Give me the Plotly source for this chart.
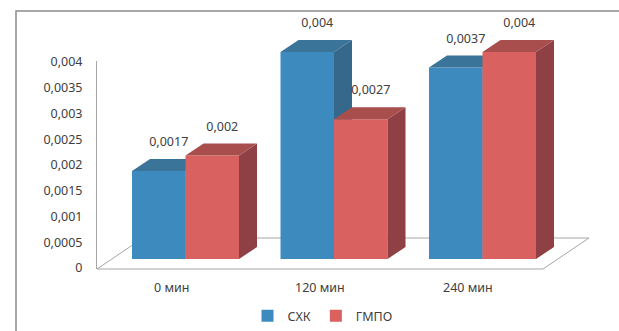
import plotly.graph_objects as go

# ---- data -------------------------------------------------------------
categories = ["0 мин", "120 мин", "240 мин"]
series_names = ["СХК", "ГМПО"]
skh_values = [0.0017, 0.004, 0.0037]
gmpo_values = [0.002, 0.0027, 0.004]
tick_values = [0, 0.0005, 0.001, 0.0015, 0.002, 0.0025, 0.003, 0.0035, 0.004]
tick_labels = ["0", "0,0005", "0,001", "0,0015", "0,002", "0,0025", "0,003", "0,0035", "0,004"]

# ---- geometry (pixels) ------------------------------------------------
W, H = 619, 331
CX0, CDX = 185.5, 148.5        # x pixel of category 0 (bar pair centre), pixels per category
VY0, VDY = 259.0, 51750.0      # y pixel of value 0 on the bar plane, pixels per unit value
BAR_W = 53.5 / CDX             # bar width in category units
DEPTH_X = 18.0 / CDX           # bar depth offset (x), category units
DEPTH_Y = 12.0 / VDY           # bar depth offset (y), value units
FLOOR_FRONT_PX = 269.0         # floor front edge
FLOOR_BACK_PX = 238.0          # floor back edge
FLOOR_LEFT_PX, FLOOR_RIGHT_PX = 97.0, 543.0
FLOOR_DEPTH_PX = 46.0
AXIS_TOP_PX, AXIS_BOTTOM_PX = 61.0, 269.0
AXIS_ZERO_PX, AXIS_DY = 268.0, 51500.0

FONT = "Noto Sans"
TXT = "#404040"
GRID = "#a6a6a6"

BLUE = dict(front="#3d8bbe", top="#3a7498", side="#35688a")
RED = dict(front="#d9615f", top="#a84e4d", side="#8e4044")


def u_of(px):
    return (px - CX0) / CDX


def v_of(py):
    return (VY0 - py) / VDY


def pyp(py):
    return 1 - py / H


def fmt(v):
    return f"{v:g}".replace(".", ",")


PLOT_TOP, PLOT_BOTTOM = 0.0, 300.0
x_range = [u_of(0), u_of(W)]
y_range = [v_of(PLOT_BOTTOM), v_of(PLOT_TOP)]

fig = go.Figure()


def add_series(name, values, colors, offset, xa, ya):
    xs = list(range(len(values)))
    fig.add_trace(go.Bar(
        x=xs, y=values, name=name, offset=offset, width=BAR_W,
        marker=dict(color=colors["front"], line=dict(width=0)),
        xaxis=xa, yaxis=ya, showlegend=True,
    ))
    tx, ty, sx, sy = [], [], [], []
    for i, v in zip(xs, values):
        u0 = i + offset
        u1 = u0 + BAR_W
        tx += [u0, u1, u1 + DEPTH_X, u0 + DEPTH_X, u0, None]
        ty += [v, v, v + DEPTH_Y, v + DEPTH_Y, v, None]
        sx += [u1, u1, u1 + DEPTH_X, u1 + DEPTH_X, u1, None]
        sy += [0, v, v + DEPTH_Y, DEPTH_Y, 0, None]
    fig.add_trace(go.Scatter(
        x=sx, y=sy, mode="lines", fill="toself", fillcolor=colors["side"],
        line=dict(width=0, color=colors["side"]), xaxis=xa, yaxis=ya,
        showlegend=False, hoverinfo="skip",
    ))
    fig.add_trace(go.Scatter(
        x=tx, y=ty, mode="lines", fill="toself", fillcolor=colors["top"],
        line=dict(width=0, color=colors["top"]), xaxis=xa, yaxis=ya,
        showlegend=False, hoverinfo="skip",
    ))
    # value labels above each bar
    fig.add_trace(go.Scatter(
        x=[i + offset + BAR_W / 2 + 10.0 / CDX for i in xs],
        y=[v + 28.0 / VDY for v in values],
        mode="text", text=[fmt(v) for v in values],
        textfont=dict(family=FONT, size=12.5, color=TXT),
        textposition="middle center", cliponaxis=False,
        xaxis=xa, yaxis=ya, showlegend=False, hoverinfo="skip",
    ))


add_series(series_names[0], skh_values, BLUE, -BAR_W, "x", "y")
add_series(series_names[1], gmpo_values, RED, 0.0, "x2", "y2")

# empty trace so the value-axis subplot is created
fig.add_trace(go.Scatter(x=[], y=[], xaxis="x3", yaxis="y3", showlegend=False))

# floor of the 3-D plot area
fl, fr = u_of(FLOOR_LEFT_PX), u_of(FLOOR_RIGHT_PX)
fd = FLOOR_DEPTH_PX / CDX
vf, vb = v_of(FLOOR_FRONT_PX), v_of(FLOOR_BACK_PX)
fig.add_shape(
    type="path", xref="x", yref="y", layer="below",
    path=f"M{fl},{vf} L{fr},{vf} L{fr + fd},{vb} L{fl + fd},{vb} Z",
    line=dict(color=GRID, width=1), fillcolor="rgba(0,0,0,0)",
)

# chart frame
fig.add_shape(
    type="rect", xref="paper", yref="paper",
    x0=16 / W, x1=(W + 10) / W, y0=pyp(H + 10), y1=pyp(11),
    line=dict(color="#8c8c8c", width=1.5), fillcolor="rgba(0,0,0,0)",
)

# category labels along the front edge of the floor
cat_shift = (CX0 - (FLOOR_LEFT_PX + (FLOOR_RIGHT_PX - FLOOR_LEFT_PX) / 6)) / CDX
for i, c in enumerate(categories):
    fig.add_annotation(
        x=i - cat_shift, y=pyp(287), xref="x", yref="paper", text=c,
        showarrow=False, font=dict(family=FONT, size=12.5, color=TXT),
        xanchor="center", yanchor="middle",
    )

hidden = dict(visible=False, showgrid=False, zeroline=False, fixedrange=True, automargin=False)
fig.update_layout(
    template="none",
    width=W, height=H, autosize=False,
    margin=dict(l=0, r=0, t=0, b=0, pad=0),
    paper_bgcolor="white", plot_bgcolor="rgba(0,0,0,0)",
    font=dict(family=FONT, size=12.5, color=TXT),
    barmode="overlay",
    xaxis=dict(domain=[0, 1], range=x_range, anchor="y", **hidden),
    yaxis=dict(domain=[pyp(PLOT_BOTTOM), 1], range=y_range, anchor="x", **hidden),
    xaxis2=dict(domain=[0, 1], range=x_range, anchor="y2", overlaying="x", **hidden),
    yaxis2=dict(domain=[pyp(PLOT_BOTTOM), 1], range=y_range, anchor="x2", overlaying="y", **hidden),
    xaxis3=dict(domain=[FLOOR_LEFT_PX / W, 0.3], anchor="y3", **hidden),
    yaxis3=dict(
        domain=[pyp(AXIS_BOTTOM_PX), pyp(AXIS_TOP_PX)], anchor="x3",
        range=[(AXIS_ZERO_PX - AXIS_BOTTOM_PX) / AXIS_DY, (AXIS_ZERO_PX - AXIS_TOP_PX) / AXIS_DY],
        tickvals=tick_values, ticktext=tick_labels,
        showline=True, linecolor=GRID, linewidth=1, ticks="",
        showgrid=False, zeroline=False, ticklabelstandoff=11, automargin=False,
        tickfont=dict(family=FONT, size=12.5, color=TXT), fixedrange=True,
    ),
    legend=dict(
        orientation="h", x=322.5 / W, xanchor="center",
        y=0, yanchor="bottom",
        font=dict(family=FONT, size=12.5, color=TXT), itemwidth=30,
        bgcolor="rgba(0,0,0,0)", borderwidth=0,
    ),
)

fig.write_html("out.html")
